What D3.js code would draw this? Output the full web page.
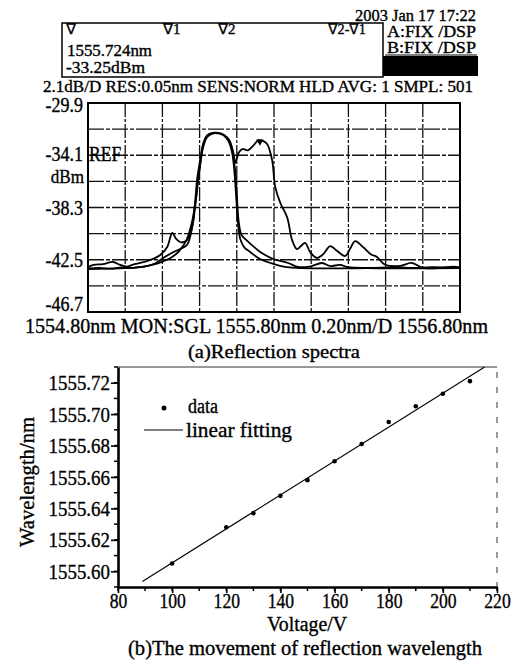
<!DOCTYPE html>
<html><head><meta charset="utf-8">
<script src="https://cdn.jsdelivr.net/npm/d3@7"></script>
<style>
body{margin:0;background:#fff;}
text{font-family:"Liberation Serif","Times New Roman",serif;fill:#000;stroke:#000;stroke-width:0.35px;}
</style></head>
<body>
<script>
// ---------- Data: (a) reflection spectra ----------
const wlRange = [1554.80, 1556.80];
const dbRange = [-46.7, -29.9];
const dbGrid = [-46.7, -44.6, -42.5, -40.4, -38.3, -36.2, -34.1, -32.0, -29.9];
const dbTickLabels = ["-29.9", "-34.1", "-38.3", "-42.5", "-46.7"];

const wlA = [1554.80,1554.86,1554.92,1554.98,1555.04,1555.10,1555.15,1555.20,1555.25,1555.29,1555.33,1555.36,1555.38,1555.40,1555.42,1555.44,1555.47,1555.50,1555.53,1555.56,1555.58,1555.593,1555.61,1555.63,1555.66,1555.69,1555.715,1555.74,1555.763,1555.79,1555.806,1555.833,1555.871,1555.897,1555.923,1555.945,1555.967,1555.995,1556.030,1556.065,1556.102,1556.140,1556.182,1556.210,1556.236,1556.280,1556.325,1556.352,1556.397,1556.478,1556.540,1556.601,1556.70,1556.76,1556.80];
const dbA = [-43.20,-43.15,-43.22,-43.12,-43.15,-43.05,-42.90,-42.65,-42.30,-41.80,-40.90,-39.40,-37.60,-35.20,-33.40,-32.65,-32.35,-32.30,-32.45,-32.90,-33.80,-34.70,-33.90,-33.60,-33.70,-33.30,-32.90,-32.95,-33.20,-34.50,-36.60,-37.90,-39.10,-40.90,-41.65,-41.40,-41.15,-41.90,-42.35,-42.05,-41.40,-41.80,-42.20,-41.60,-41.00,-41.50,-42.10,-42.25,-42.90,-43.00,-42.75,-43.15,-43.15,-43.05,-43.10];

const wlB = [1554.80,1554.83,1554.88,1554.936,1554.97,1555.011,1555.05,1555.081,1555.135,1555.188,1555.226,1555.253,1555.275,1555.300,1555.333,1555.360,1555.376,1555.39,1555.405,1555.42,1555.44,1555.47,1555.50,1555.53,1555.555,1555.575,1555.59,1555.60,1555.61,1555.625,1555.65,1555.68,1555.715,1555.75,1555.796,1555.876,1555.93,1555.99,1556.059,1556.10,1556.155,1556.20,1556.30,1556.45,1556.55,1556.65,1556.80];
const dbB = [-43.10,-42.92,-42.85,-42.68,-42.90,-43.05,-42.85,-42.76,-42.52,-42.12,-41.47,-40.35,-40.85,-41.10,-40.90,-39.87,-38.26,-36.30,-34.60,-33.20,-32.60,-32.35,-32.35,-32.50,-32.90,-33.70,-35.20,-37.20,-39.40,-40.50,-40.90,-41.30,-41.75,-42.10,-42.44,-42.76,-43.08,-43.05,-42.76,-43.00,-42.92,-43.10,-43.15,-43.12,-43.15,-43.10,-43.15];

const wlC = [1554.80,1554.90,1555.00,1555.10,1555.16,1555.204,1555.25,1555.30,1555.333,1555.36,1555.375,1555.387,1555.403,1555.42,1555.44,1555.47,1555.50,1555.53,1555.555,1555.575,1555.588,1555.598,1555.608,1555.62,1555.64,1555.67,1555.72,1555.80,1555.87,1555.95,1556.10,1556.30,1556.50,1556.80];
const dbC = [-43.25,-43.22,-43.18,-43.05,-42.80,-42.36,-41.96,-41.60,-41.30,-39.90,-38.00,-36.00,-34.50,-33.15,-32.50,-32.30,-32.30,-32.50,-32.95,-33.90,-35.60,-37.80,-39.80,-40.90,-41.50,-41.85,-42.40,-42.85,-43.10,-43.18,-43.20,-43.18,-43.20,-43.18];

const markerWl = 1555.724, markerDb = -33.25;

// ---------- Data: (b) wavelength vs voltage ----------
const voltage = [100,120,130,140,150,160,170,180,190,200,210];
const wavelength = [1555.605,1555.628,1555.637,1555.648,1555.658,1555.670,1555.681,1555.695,1555.705,1555.713,1555.721];
const vRange = [80, 220];
const wRange = [1555.59, 1555.73];
const vTicks = [80,100,120,140,160,180,200,220];
const wTicks = [1555.60,1555.62,1555.64,1555.66,1555.68,1555.70,1555.72];
const fitStartV = 89;

// ---------- helpers ----------
function squeeze(sel, k){ sel.each(function(){ const w=this.getComputedTextLength(); this.setAttribute('textLength', w*k); this.setAttribute('lengthAdjust','spacingAndGlyphs'); }); return sel; }
function fitW(sel, w){ return sel.attr('textLength', w).attr('lengthAdjust','spacingAndGlyphs'); }

const svg = d3.select('body').append('svg').attr('width',520).attr('height',671);
svg.append('rect').attr('width',520).attr('height',671).attr('fill','#fff');

// ---------- Header ----------
const hd = svg.append('g');
fitW(hd.append('text').attr('x',355).attr('y',21).attr('font-size',16).text('2003 Jan 17 17:22'),121);
fitW(hd.append('text').attr('x',387).attr('y',37).attr('font-size',16).text('A:FIX /DSP'),89);
fitW(hd.append('text').attr('x',387).attr('y',53).attr('font-size',16).text('B:FIX /DSP'),89);
hd.append('line').attr('x1',385).attr('x2',477).attr('y1',55).attr('y2',55).attr('stroke','#000').attr('stroke-width',1);
hd.append('rect').attr('x',383).attr('y',56).attr('width',95).attr('height',20).attr('fill','#000');
hd.append('rect').attr('x',62).attr('y',23).attr('width',321).attr('height',54).attr('fill','none').attr('stroke','#000').attr('stroke-width',1.5);
hd.append('text').attr('x',66).attr('y',34).attr('font-size',15).text('∇');
hd.append('text').attr('x',163).attr('y',34).attr('font-size',15).text('∇1');
hd.append('text').attr('x',218).attr('y',34).attr('font-size',15).text('∇2');
fitW(hd.append('text').attr('x',328).attr('y',34).attr('font-size',15).text('∇2-∇1'),38);
fitW(hd.append('text').attr('x',67).attr('y',56).attr('font-size',16).text('1555.724nm'),85);
fitW(hd.append('text').attr('x',66).attr('y',73).attr('font-size',16).text('-33.25dBm'),79);
fitW(hd.append('text').attr('x',43).attr('y',92).attr('font-size',16).text('2.1dB/D RES:0.05nm SENS:NORM HLD AVG: 1 SMPL: 501'),430);

// ---------- (a) spectra ----------
const xa = d3.scaleLinear().domain(wlRange).range([88,460]);
const ya = d3.scaleLinear().domain(dbRange).range([312,103]);
const ga = svg.append('g');
ga.selectAll('line.vg').data(xa.ticks(10).slice(1,-1)).join('line')
  .attr('x1',d=>xa(d)).attr('x2',d=>xa(d)).attr('y1',103).attr('y2',312)
  .attr('stroke','#111').attr('stroke-width',1.3).attr('stroke-dasharray','14,2,3,2');
ga.selectAll('line.hg').data(dbGrid.slice(1,-1)).join('line')
  .attr('x1',88).attr('x2',460).attr('y1',d=>ya(d)).attr('y2',d=>ya(d))
  .attr('stroke','#111').attr('stroke-width',1.3).attr('stroke-dasharray','16,2,4,2');
ga.append('rect').attr('x',88).attr('y',103).attr('width',372).attr('height',209)
  .attr('fill','none').attr('stroke','#000').attr('stroke-width',2);

const lineA = d3.line().x(d=>xa(d[0])).y(d=>ya(d[1])).curve(d3.curveCatmullRom.alpha(0.5));
[[wlA,dbA],[wlB,dbB],[wlC,dbC]].forEach(([w,v])=>{
  ga.append('path').datum(w.map((d,i)=>[d,v[i]])).attr('d',lineA)
    .attr('fill','none').attr('stroke','#000').attr('stroke-width',1.8).attr('stroke-linejoin','round');
});
// marker
const mx = xa(markerWl), my = ya(markerDb);
ga.append('path').attr('d',d3.symbol(d3.symbolTriangle,22)()).attr('transform',`translate(${mx},${my-3}) rotate(180)`).attr('fill','#000');

// y labels
dbTickLabels.forEach((t,i)=>{
  const v=+t;
  const yy = i===0 ? ya(v)+9 : (i===1 ? ya(v)+6 : Math.min(ya(v)+7,311));
  squeeze(ga.append('text').attr('x',83).attr('y',yy).attr('text-anchor','end').attr('font-size',20).text(t),0.9);
});
squeeze(ga.append('text').attr('x',89).attr('y',ya(-34.1)+6).attr('font-size',20).text('REF'),0.88);
squeeze(ga.append('text').attr('x',84).attr('y',ya(-34.1)+28).attr('text-anchor','end').attr('font-size',19).text('dBm'),0.9);
fitW(ga.append('text').attr('x',25).attr('y',333).attr('font-size',21).text(`${wlRange[0].toFixed(2)}nm  MON:SGL  ${((wlRange[0]+wlRange[1])/2).toFixed(2)}nm  0.20nm/D  ${wlRange[1].toFixed(2)}nm`),463);
fitW(ga.append('text').attr('x',188).attr('y',358).attr('font-size',19).text('(a)Reflection spectra'),172);

// ---------- (b) wavelength shift ----------
const xb = d3.scaleLinear().domain(vRange).range([118,497]);
const yb = d3.scaleLinear().domain(wRange).range([587,367]);
const gb = svg.append('g');
gb.append('line').attr('x1',118).attr('x2',497).attr('y1',367).attr('y2',367).attr('stroke','#333').attr('stroke-width',1.2);
gb.append('line').attr('x1',497).attr('x2',497).attr('y1',372).attr('y2',587).attr('stroke','#333').attr('stroke-width',1).attr('stroke-dasharray','6,9');
const vMinor = d3.range(vRange[0],vRange[1]+1,10);
gb.selectAll('line.vm').data(vMinor).join('line')
  .attr('x1',d=>xb(d)).attr('x2',d=>xb(d)).attr('y1',587).attr('y2',591).attr('stroke','#000').attr('stroke-width',1.5);
const wMinor = d3.range(0,15).map(i=>wRange[0]+0.01*i);
gb.selectAll('line.wm').data(wMinor).join('line')
  .attr('x1',114).attr('x2',118).attr('y1',d=>yb(d)).attr('y2',d=>yb(d)).attr('stroke','#000').attr('stroke-width',1.5);
const axB = gb.append('g').attr('transform','translate(0,587)')
  .call(d3.axisBottom(xb).tickValues(vTicks).tickSize(6).tickSizeOuter(0).tickFormat(d3.format('d')));
const axL = gb.append('g').attr('transform','translate(118,0)')
  .call(d3.axisLeft(yb).tickValues(wTicks).tickSize(7).tickSizeOuter(0).tickFormat(d3.format('.2f')));
[axB,axL].forEach(a=>{
  a.select('.domain').attr('stroke','#000').attr('stroke-width',2.6);
  a.selectAll('.tick line').attr('stroke','#000').attr('stroke-width',1.6);
  a.selectAll('text').attr('font-family','"Liberation Serif","Times New Roman",serif').attr('fill','#000');
});
axB.selectAll('text').attr('font-size',20).attr('dy',null).attr('y',21);
squeeze(axB.selectAll('text'),0.88);
axL.selectAll('text').attr('font-size',22).attr('dy',null).attr('x',-8).attr('y',7);
squeeze(axL.selectAll('text'),0.86);

// fit line (least squares)
const mxv = d3.mean(voltage), myv = d3.mean(wavelength);
const slope = d3.sum(voltage.map((v,i)=>(v-mxv)*(wavelength[i]-myv))) / d3.sum(voltage.map(v=>(v-mxv)**2));
const icpt = myv - slope*mxv;
const fitEndV = Math.min(vRange[1], (wRange[1]-icpt)/slope);
gb.append('line')
  .attr('x1',xb(fitStartV)).attr('y1',yb(icpt+slope*fitStartV))
  .attr('x2',xb(fitEndV)).attr('y2',yb(icpt+slope*fitEndV))
  .attr('stroke','#000').attr('stroke-width',1.1);
gb.selectAll('circle.pt').data(voltage).join('circle')
  .attr('cx',d=>xb(d)).attr('cy',(d,i)=>yb(wavelength[i])).attr('r',2.3).attr('fill','#000');

// legend
gb.append('circle').attr('cx',164).attr('cy',408).attr('r',2.5).attr('fill','#000');
squeeze(gb.append('text').attr('x',188).attr('y',413).attr('font-size',20).text('data'),0.9);
gb.append('line').attr('x1',144).attr('x2',183).attr('y1',430).attr('y2',430).attr('stroke','#000').attr('stroke-width',1.1);
fitW(gb.append('text').attr('x',186).attr('y',437).attr('font-size',21).text('linear fitting'),106);

// axis titles
fitW(gb.append('text').attr('transform','translate(34,482) rotate(-90)').attr('text-anchor','middle').attr('font-size',21).text('Wavelength/nm'),130);
fitW(gb.append('text').attr('x',307).attr('y',631).attr('text-anchor','middle').attr('font-size',20).text('Voltage/V'),80);
fitW(gb.append('text').attr('x',128).attr('y',655).attr('font-size',20).text('(b)The movement of reflection wavelength'),354);
</script>
</body></html>
